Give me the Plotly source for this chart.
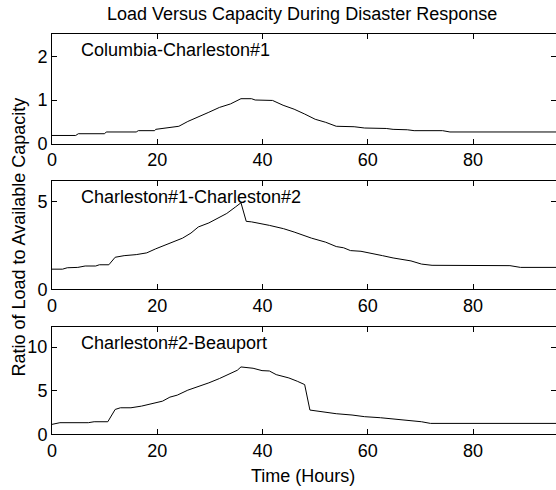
import plotly.graph_objects as go
from plotly.subplots import make_subplots

# ---- data ----
hours_cc1 = [0, 4.5, 5, 10, 10.3, 16, 16.4, 19.5, 19.7, 21.7, 24.1, 25.8, 27.8, 29.8, 31.8, 33.9,
             35.9, 37.9, 38.6, 41.9, 43.9, 46, 48, 50, 52, 54, 57.4, 59.4, 63.5, 64.8, 67.5,
             68.8, 74.2, 75.6, 96]
load_cc1 = [0.19, 0.19, 0.23, 0.23, 0.27, 0.27, 0.30, 0.30, 0.33, 0.36, 0.40, 0.51, 0.61, 0.72,
            0.83, 0.91, 1.03, 1.03, 1.00, 0.99, 0.88, 0.79, 0.68, 0.56, 0.49, 0.40, 0.39, 0.36,
            0.35, 0.33, 0.32, 0.30, 0.30, 0.27, 0.27]

hours_c1c2 = [0, 2.0, 2.9, 4.9, 6.3, 8.3, 9.0, 10.8, 12.0, 13.7, 16.0, 18.0, 19.7, 21.7, 23.8,
              24.8, 26.4, 27.8, 29.8, 31.5, 33.2, 34.9, 35.9, 36.9, 37.9, 41.3, 44.0, 46.0,
              47.3, 49.3, 52.0, 54.0, 55.4, 56.7, 58.7, 60.8, 62.8, 64.8, 66.8, 68.2, 70.2,
              72.2, 87.0, 89.0, 96]
load_c1c2 = [1.15, 1.15, 1.23, 1.25, 1.33, 1.33, 1.40, 1.40, 1.83, 1.92, 1.98, 2.08, 2.31, 2.54,
             2.79, 2.92, 3.21, 3.56, 3.79, 4.04, 4.33, 4.71, 4.94, 3.88, 3.85, 3.65, 3.46, 3.27,
             3.13, 2.92, 2.69, 2.44, 2.37, 2.21, 2.17, 2.06, 1.92, 1.79, 1.67, 1.62, 1.44, 1.37,
             1.35, 1.25, 1.25]

hours_c2b = [0, 1.5, 6.9, 8.0, 10.6, 12.0, 13.0, 15.0, 17.0, 19.0, 21.0, 22.4, 23.8, 25.8, 27.8,
             29.8, 31.8, 33.9, 35.2, 35.9, 38.2, 39.9, 41.3, 42.6, 45.0, 46.6, 48.0, 49.0, 51.0,
             54.0, 57.0, 59.4, 62.4, 66.2, 68.8, 70.2, 71.9, 96]
load_c2b = [1.14, 1.33, 1.33, 1.44, 1.44, 2.85, 3.04, 3.04, 3.23, 3.50, 3.80, 4.26, 4.49, 5.06,
            5.44, 5.90, 6.39, 6.96, 7.34, 7.72, 7.57, 7.30, 7.26, 6.84, 6.46, 6.08, 5.70, 2.78,
            2.59, 2.36, 2.21, 2.02, 1.90, 1.71, 1.52, 1.44, 1.25, 1.25]

panel_names = ["Columbia-Charleston#1", "Charleston#1-Charleston#2", "Charleston#2-Beauport"]
x_ticks = [0, 20, 40, 60, 80]
y_ticks = [[0, 1, 2], [0, 5], [0, 5, 10]]
y_ranges = [[0, 2.5], [0, 6.2], [0, 12.3]]
x_range = [0, 95.75]

title_text = "Load Versus Capacity During Disaster Response"
x_title = "Time (Hours)"
y_title = "Ratio of Load to Available Capacity"

# ---- layout helpers (pixel -> paper) ----
W, H = 556, 490
ML, MR, MT, MB = 52, 0, 0, 0
PW = W - ML - MR

def px(x):
    return (x - ML) / PW

def py(y):
    return 1 - y / H

panel_px = [(34.3, 143.8), (180.7, 289.3), (327.0, 434.3)]

FONT = "Arial, Liberation Sans, sans-serif"
FS = 18

fig = make_subplots(rows=3, cols=1)
series = [(hours_cc1, load_cc1), (hours_c1c2, load_c1c2), (hours_c2b, load_c2b)]
for i, (xs, ys) in enumerate(series):
    fig.add_trace(go.Scatter(x=xs, y=ys, mode="lines",
                             line=dict(color="black", width=1), showlegend=False),
                  row=i + 1, col=1)

axis_common = dict(showline=True, linecolor="black", linewidth=1, mirror="ticks",
                   ticks="inside", ticklen=5, tickcolor="black", tickwidth=1,
                   showgrid=False, zeroline=False, automargin=False,
                   tickfont=dict(family=FONT, size=FS, color="black"))

for i in range(3):
    top, bot = panel_px[i]
    xa = "xaxis" if i == 0 else f"xaxis{i+1}"
    ya = "yaxis" if i == 0 else f"yaxis{i+1}"
    fig.layout[xa].update(domain=[0, 1], range=x_range, tickmode="array",
                          tickvals=x_ticks, **axis_common)
    fig.layout[ya].update(domain=[py(bot), py(top)], range=y_ranges[i], tickmode="array",
                          tickvals=y_ticks[i], **axis_common)
    fig.add_annotation(xref=f"x{i+1}" if i else "x", yref="paper",
                       x=5.1, y=py(top + 16), text=panel_names[i], showarrow=False,
                       xanchor="left", yanchor="middle",
                       font=dict(family=FONT, size=FS, color="black"))

fig.add_annotation(xref="paper", yref="paper", x=px(302), y=py(14), text=title_text,
                   showarrow=False, xanchor="center", yanchor="middle",
                   font=dict(family=FONT, size=FS, color="black"))
fig.add_annotation(xref="paper", yref="paper", x=px(303), y=py(476), text=x_title,
                   showarrow=False, xanchor="center", yanchor="middle",
                   font=dict(family=FONT, size=FS, color="black"))
fig.add_annotation(xref="paper", yref="paper", x=px(18.5), y=py(237), text=y_title,
                   textangle=-90, showarrow=False, xanchor="center", yanchor="middle",
                   font=dict(family=FONT, size=FS, color="black"))

fig.update_layout(width=W, height=H, margin=dict(l=ML, r=MR, t=MT, b=MB),
                  paper_bgcolor="white", plot_bgcolor="white", hovermode=False)

fig.write_html("out.html", config={"displayModeBar": False, "staticPlot": True},
               post_script="document.body.style.margin='0';document.body.style.overflow='hidden';")
